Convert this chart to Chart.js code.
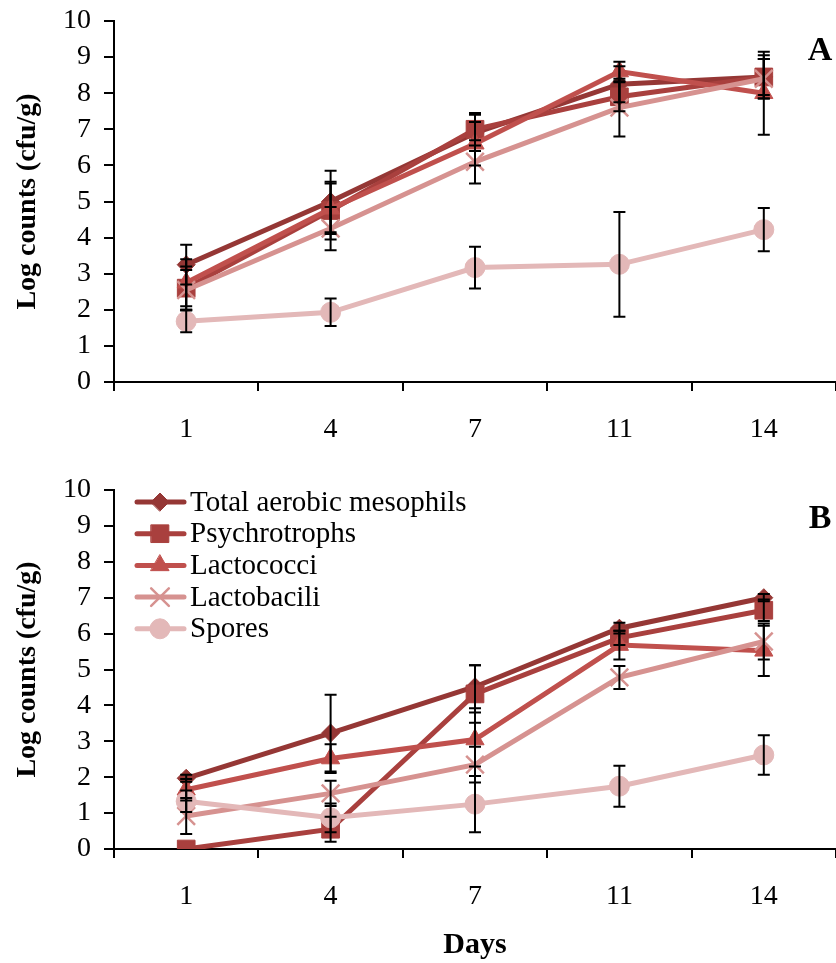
<!DOCTYPE html>
<html>
<head>
<meta charset="utf-8">
<script src="https://cdn.jsdelivr.net/npm/chart.js@4"></script>
<style>
  body { margin: 0; background: #fff; }
  .panel { position: relative; width: 836px; }
  canvas { display: block; }
</style>
</head>
<body>
<div class="panel"><canvas id="chartA" width="836" height="470"></canvas></div>
<div class="panel"><canvas id="chartB" width="836" height="493"></canvas></div>
<script>
const days = ['1', '4', '7', '11', '14'];
const seriesNames = ['Total aerobic mesophils', 'Psychrotrophs', 'Lactococci', 'Lactobacili', 'Spores'];

// panel A
const aTotal = [3.25, 5.0, 6.9, 8.25, 8.45];
const aPsychro = [2.6, 4.75, 7.0, 7.9, 8.45];
const aLactococci = [2.75, 4.8, 6.6, 8.6, 8.0];
const aLactobacili = [2.55, 4.25, 6.1, 7.6, 8.4];
const aSpores = [1.68, 1.93, 3.17, 3.26, 4.22];

const aTotalErr = [0.55, 0.85, 0.5, 0.5, 0.6];
const aPsychroErr = [0.6, 0.8, 0.45, 0.4, 0.5];
const aLactococciErr = [0.65, 0.7, 0.6, 0.27, 1.15];
const aLactobaciliErr = [0.55, 0.6, 0.6, 0.8, 0.55];
const aSporesErr = [0.3, 0.38, 0.58, 1.45, 0.6];

// panel B
const bTotal = [1.97, 3.23, 4.52, 6.15, 7.0];
const bPsychro = [0.0, 0.55, 4.32, 5.88, 6.65];
const bLactococci = [1.65, 2.52, 3.05, 5.68, 5.52];
const bLactobacili = [0.92, 1.55, 2.35, 4.78, 5.78];
const bSpores = [1.33, 0.87, 1.25, 1.75, 2.62];

const bTotalErr = [0.1, 1.07, 0.6, 0.15, 0.1];
const bPsychroErr = [0, 0.35, 0.8, 0.2, 0.3];
const bLactococciErr = [0.3, 0.4, 0.75, 0.4, 0.7];
const bLactobaciliErr = [0.5, 0.35, 0.5, 0.32, 0.5];
const bSporesErr = [0.3, 0.4, 0.78, 0.57, 0.55];

const yTicks = [0, 1, 2, 3, 4, 5, 6, 7, 8, 9, 10];

const colors = ['#953735', '#A9403E', '#C0504D', '#D69290', '#E3B8B8'];
const styles = ['rectRot', 'rect', 'triangle', 'crossRot', 'circle'];
const radii = [9, 12.5, 10.5, 12.5, 10];

const FONT = "'Liberation Serif', 'Times New Roman', serif";

function makeDatasets(values, errs) {
    return values.map((v, i) => ({
        label: seriesNames[i],
        data: v,
        err: errs[i],
        borderColor: colors[i],
        backgroundColor: colors[i],
        borderWidth: 5,
        pointStyle: styles[i],
        pointRadius: radii[i],
        pointBorderWidth: styles[i] === 'crossRot' ? 2.5 : 1,
        pointBackgroundColor: colors[i],
        pointBorderColor: colors[i],
        tension: 0,
        order: 5 - i
    }));
}

// black error bars with caps
const errorBars = {
    id: 'errorBars',
    afterDatasetsDraw(chart) {
        const ctx = chart.ctx;
        const y = chart.scales.y;
        ctx.save();
        ctx.strokeStyle = '#000';
        ctx.lineWidth = 2;
        chart.data.datasets.forEach((ds, i) => {
            const meta = chart.getDatasetMeta(i);
            meta.data.forEach((pt, j) => {
                const e = ds.err[j];
                if (!e) return;
                const top = y.getPixelForValue(ds.data[j] + e);
                const bot = y.getPixelForValue(Math.max(ds.data[j] - e, 0));
                ctx.beginPath();
                ctx.moveTo(pt.x, top); ctx.lineTo(pt.x, bot);
                ctx.moveTo(pt.x - 6, top); ctx.lineTo(pt.x + 6, top);
                ctx.moveTo(pt.x - 6, bot); ctx.lineTo(pt.x + 6, bot);
                ctx.stroke();
            });
        });
        ctx.restore();
    }
};

// panel letter + optional line legend
const panelExtras = {
    id: 'panelExtras',
    afterDraw(chart, args, opts) {
        const ctx = chart.ctx;
        ctx.save();
        ctx.fillStyle = '#000';
        ctx.font = 'bold 34px ' + FONT;
        ctx.textAlign = 'center';
        ctx.textBaseline = 'middle';
        ctx.fillText(opts.letter, 820, opts.letterY);

        if (opts.legend) {
            chart.data.datasets.forEach((ds, i) => {
                const ly = 32 + i * 31.7;
                ctx.strokeStyle = ds.borderColor;
                ctx.lineWidth = 5;
                ctx.lineCap = 'round';
                ctx.beginPath();
                ctx.moveTo(137, ly); ctx.lineTo(184, ly);
                ctx.stroke();
                ctx.fillStyle = ds.backgroundColor;
                ctx.lineWidth = ds.pointBorderWidth;
                Chart.helpers.drawPoint(ctx, {
                    pointStyle: ds.pointStyle,
                    radius: ds.pointRadius,
                    rotation: 0,
                    borderWidth: ds.pointBorderWidth
                }, 160, ly);
                ctx.fillStyle = '#000';
                ctx.font = '29px ' + FONT;
                ctx.textAlign = 'left';
                ctx.fillText(ds.label, 190, ly + 1);
            });
        }
        ctx.restore();
    }
};

function makeChart(id, values, errs, opts) {
    const ctx = document.getElementById(id).getContext('2d');
    return new Chart(ctx, {
        type: 'line',
        data: {
            labels: days,
            datasets: makeDatasets(values, errs)
        },
        plugins: [errorBars, panelExtras],
        options: {
            responsive: false,
            animation: false,
            layout: { autoPadding: false, padding: { top: opts.top, left: 0, right: 0, bottom: 0 } },
            plugins: {
                legend: { display: false },
                tooltip: { enabled: false },
                panelExtras: { letter: opts.letter, letterY: opts.letterY, legend: opts.legend }
            },
            scales: {
                x: {
                    type: 'category',
                    offset: true,
                    grid: { offset: true, drawOnChartArea: false, tickLength: 9, color: '#000', lineWidth: 2 },
                    border: { color: '#000', width: 2 },
                    ticks: { color: '#000', padding: 22, font: { family: FONT, size: 28 } },
                    title: {
                        display: opts.xTitle,
                        text: 'Days',
                        color: '#000',
                        padding: { top: 0, bottom: 0 },
                        font: { family: FONT, size: 30, weight: 'bold' }
                    },
                    afterFit(scale) {
                        scale.height = opts.xHeight;
                        scale.paddingLeft = 0;
                        scale.paddingRight = 0;
                    }
                },
                y: {
                    min: 0,
                    max: 10,
                    afterBuildTicks(scale) { scale.ticks = yTicks.map(v => ({ value: v })); },
                    grid: { drawOnChartArea: false, tickLength: 10, color: '#000', lineWidth: 2 },
                    border: { color: '#000', width: 2 },
                    ticks: { autoSkip: false, color: '#000', padding: 13, font: { family: FONT, size: 28 } },
                    title: {
                        display: true,
                        text: 'Log counts (cfu/g)',
                        color: '#000',
                        padding: { top: 11, bottom: 0 },
                        font: { family: FONT, size: 28, weight: 'bold' }
                    },
                    afterFit(scale) {
                        scale.width = 114;
                        scale.paddingTop = 0;
                        scale.paddingBottom = 0;
                    }
                }
            }
        }
    });
}

makeChart('chartA',
    [aTotal, aPsychro, aLactococci, aLactobacili, aSpores],
    [aTotalErr, aPsychroErr, aLactococciErr, aLactobaciliErr, aSporesErr],
    { top: 21, xHeight: 88, letter: 'A', letterY: 51, legend: false, xTitle: false });

makeChart('chartB',
    [bTotal, bPsychro, bLactococci, bLactobacili, bSpores],
    [bTotalErr, bPsychroErr, bLactococciErr, bLactobaciliErr, bSporesErr],
    { top: 20, xHeight: 114, letter: 'B', letterY: 49, legend: true, xTitle: true });
</script>
</body>
</html>
